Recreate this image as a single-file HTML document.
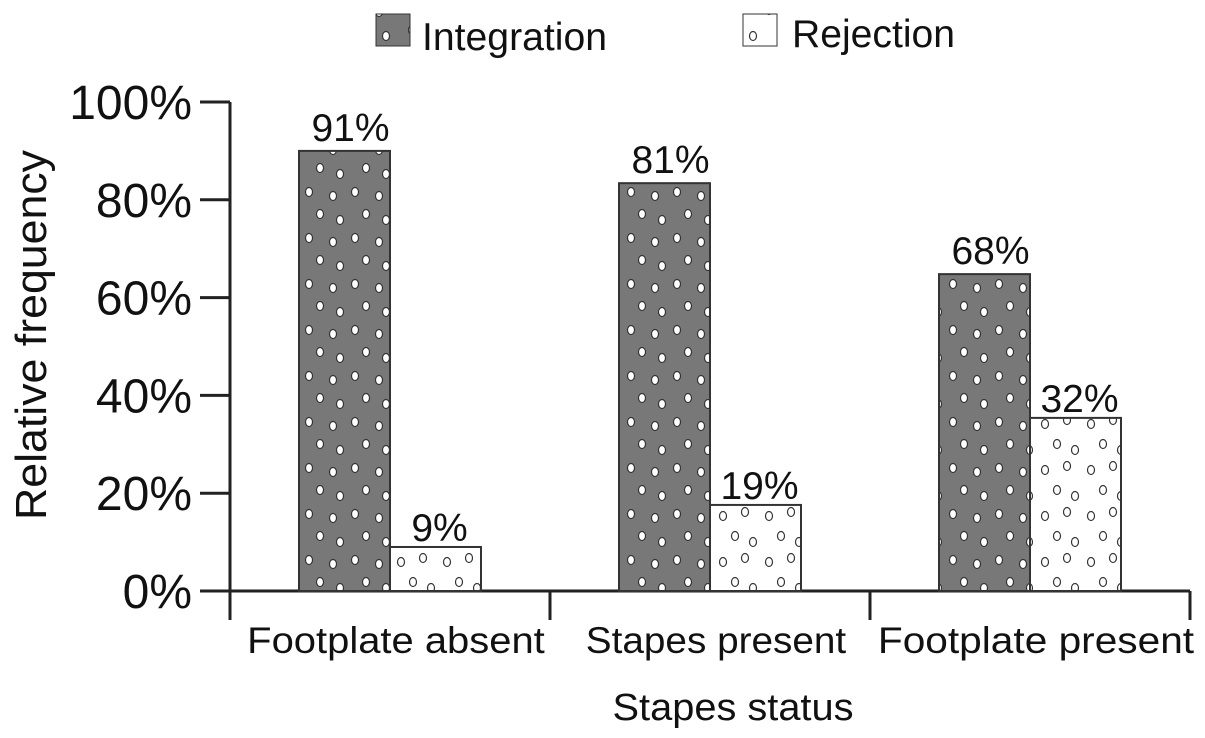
<!DOCTYPE html>
<html><head><meta charset="utf-8"><style>
html,body{margin:0;padding:0;background:#fff;}
svg{display:block;font-family:"Liberation Sans",Arial,sans-serif;}
</style></head><body>
<svg id="chart" width="1205" height="738" viewBox="0 0 1205 738">
<defs>
<pattern id="dotsDark" width="46" height="46" patternUnits="userSpaceOnUse" x="300" y="0">
<rect width="46" height="46" fill="#787878"/>
<ellipse cx="9" cy="8" rx="3.5" ry="4.5" fill="#fff" stroke="#333" stroke-width="1.2"/>
<ellipse cx="33" cy="12" rx="3.5" ry="4.5" fill="#fff" stroke="#333" stroke-width="1.2"/>
<ellipse cx="20" cy="30" rx="3.5" ry="4.5" fill="#fff" stroke="#333" stroke-width="1.2"/>
<ellipse cx="40" cy="36" rx="3.5" ry="4.5" fill="#fff" stroke="#333" stroke-width="1.2"/>
</pattern>
<pattern id="dotsLight" width="46" height="46" patternUnits="userSpaceOnUse" x="391" y="0">
<rect width="46" height="46" fill="#fff"/>
<ellipse cx="10" cy="10" rx="3.5" ry="4.5" fill="#fff" stroke="#333" stroke-width="1.2"/>
<ellipse cx="32" cy="6" rx="3.5" ry="4.5" fill="#fff" stroke="#333" stroke-width="1.2"/>
<ellipse cx="22" cy="30" rx="3.5" ry="4.5" fill="#fff" stroke="#333" stroke-width="1.2"/>
<ellipse cx="40" cy="36" rx="3.5" ry="4.5" fill="#fff" stroke="#333" stroke-width="1.2"/>
</pattern>
</defs>
<g>
<rect x="376" y="14" width="34" height="32" fill="url(#dotsDark)" stroke="#333"/>
<text x="422" y="50" font-size="39" textLength="185" lengthAdjust="spacingAndGlyphs" fill="#111">Integration</text>
<rect x="743" y="14" width="34" height="32" fill="url(#dotsLight)" stroke="#333"/>
<text x="792" y="47" font-size="39" textLength="163" lengthAdjust="spacingAndGlyphs" fill="#111">Rejection</text>
</g>
<text transform="translate(46,335) rotate(-90)" text-anchor="middle" font-size="44" textLength="370" lengthAdjust="spacingAndGlyphs" fill="#111">Relative frequency</text>
<text x="733" y="720" text-anchor="middle" font-size="38" textLength="241" lengthAdjust="spacingAndGlyphs" fill="#111">Stapes status</text>
<g id="axes"></g>
<g id="bars"></g>
</svg>
<script>
const categories = ["Footplate absent", "Stapes present", "Footplate present"];
const integration = [90, 83.4, 64.8];
const rejection = [9, 17.6, 35.4];
const integrationLabels = ["91%", "81%", "68%"];
const rejectionLabels = ["9%", "19%", "32%"];
const yTicks = [0, 20, 40, 60, 80, 100];

const NS = "http://www.w3.org/2000/svg";
const x0 = 230, groupW = 320, y0 = 591, yTop = 102;
const yScale = v => y0 - (v / 100) * (y0 - yTop);
const groupX = i => x0 + i * groupW;
function mk(tag, attrs, parent, text) {
  const e = document.createElementNS(NS, tag);
  for (const k in attrs) e.setAttribute(k, attrs[k]);
  if (text !== undefined) e.textContent = text;
  parent.appendChild(e);
  return e;
}
const axes = document.getElementById("axes");
const bars = document.getElementById("bars");
let e;
e = mk("line", {x1: x0, y1: yTop, x2: x0, y2: 620, stroke: "#222", "stroke-width": 3}, axes);


e = mk("line", {x1: 200, y1: y0, x2: groupX(categories.length), y2: y0, stroke: "#222", "stroke-width": 3}, axes);


yTicks.forEach(t => {
  const y = yScale(t);
  e = mk("line", {x1: 200, y1: y, x2: x0, y2: y, stroke: "#222", "stroke-width": 3}, axes);
  
  
  e = mk("text", {x: 192, y: y + 17, "text-anchor": "end", "font-size": 48, fill: "#111"}, axes, t + "%");
  
  
});
for (let i = 1; i <= categories.length; i++) {
  e = mk("line", {x1: groupX(i), y1: y0, x2: groupX(i), y2: 620, stroke: "#222", "stroke-width": 3}, axes);
  
  
}
categories.forEach((c, i) => {
  const cx = groupX(i) + groupW / 2;
  e = mk("text", {x: cx + 6, y: 653, "text-anchor": "middle", "font-size": 37, textLength: c.length * 18.6, lengthAdjust: "spacingAndGlyphs", fill: "#111"}, axes, c);
  
  
  const bw = 91;
  const xa = cx - bw, xb = cx;
  const ya = yScale(integration[i]), yb = yScale(rejection[i]);
  e = mk("rect", {x: xa, y: ya, width: bw, height: y0 - ya, fill: "url(#dotsDark)", stroke: "#333", "stroke-width": 2}, bars);
  
  
  e = mk("rect", {x: xb, y: yb, width: bw, height: y0 - yb, fill: "url(#dotsLight)", stroke: "#333", "stroke-width": 2}, bars);
  
  
  e = mk("text", {x: xa + bw / 2 + 6, y: ya - 10, "text-anchor": "middle", "font-size": 39, fill: "#111"}, bars, integrationLabels[i]);
  
  
  e = mk("text", {x: xb + bw / 2 + 4, y: yb - 6, "text-anchor": "middle", "font-size": 39, fill: "#111"}, bars, rejectionLabels[i]);
  
  
});
</script>
</body></html>
